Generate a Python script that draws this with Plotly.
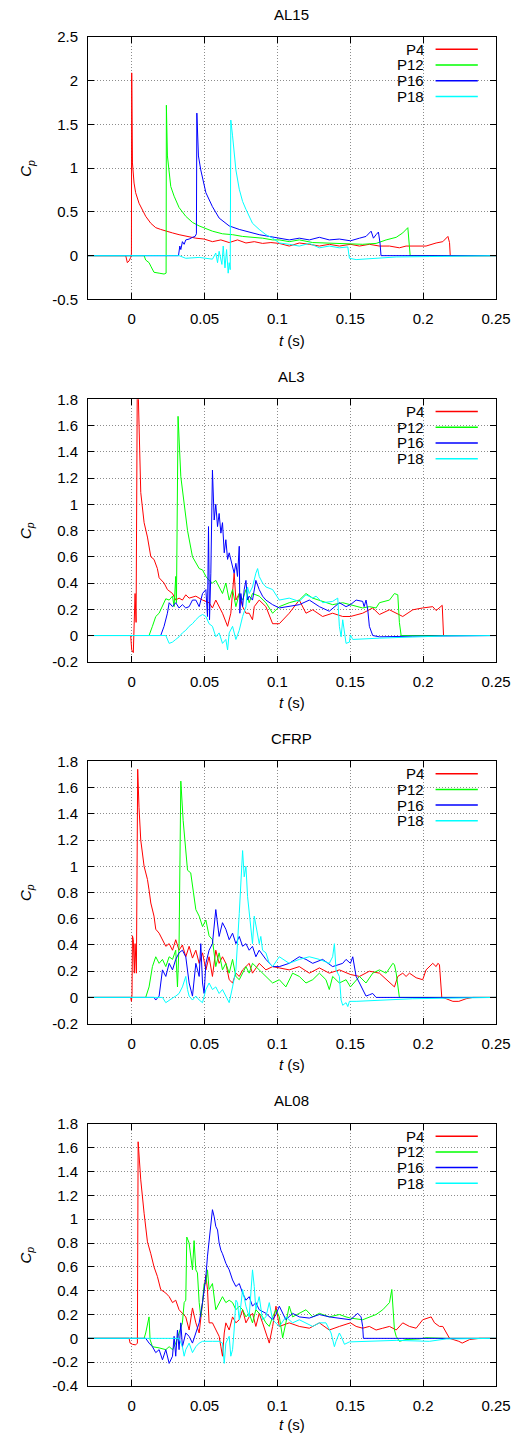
import plotly.graph_objects as go

# ---------------- data (t in s, Cp) ----------------
SERIES = ["P4", "P12", "P16", "P18"]
COLORS = ["#ff0000", "#00ff00", "#0000ff", "#00ffff"]
PANELS = ["AL15", "AL3", "CFRP", "AL08"]

X_TICKS = [0, 0.05, 0.1, 0.15, 0.2, 0.25]
X_TICK_TEXT = ["0", "0.05", "0.1", "0.15", "0.2", "0.25"]

Y_RANGES = [[-0.5, 2.5], [-0.2, 1.8], [-0.2, 1.8], [-0.4, 1.8]]
Y_TICKS = [
    [-0.5, 0, 0.5, 1, 1.5, 2, 2.5],
    [-0.2, 0, 0.2, 0.4, 0.6, 0.8, 1, 1.2, 1.4, 1.6, 1.8],
    [-0.2, 0, 0.2, 0.4, 0.6, 0.8, 1, 1.2, 1.4, 1.6, 1.8],
    [-0.4, -0.2, 0, 0.2, 0.4, 0.6, 0.8, 1, 1.2, 1.4, 1.6, 1.8],
]
Y_TICK_TEXT = [
    ["-0.5", "0", "0.5", "1", "1.5", "2", "2.5"],
    ["-0.2", "0", "0.2", "0.4", "0.6", "0.8", "1", "1.2", "1.4", "1.6", "1.8"],
    ["-0.2", "0", "0.2", "0.4", "0.6", "0.8", "1", "1.2", "1.4", "1.6", "1.8"],
    ["-0.4", "-0.2", "0", "0.2", "0.4", "0.6", "0.8", "1", "1.2", "1.4", "1.6", "1.8"],
]

AL15_P4 = [(-0.03, 0), (-0.0041, 0), (-0.003, -0.08), (-0.0018, -0.06), (-0.0007, -0.02), (-0.0002, 0.02),
           (0.0, 2.09), (0.0005, 1.06), (0.0016, 0.83), (0.0027, 0.72), (0.005, 0.60), (0.0073, 0.53),
           (0.0096, 0.45), (0.0131, 0.37), (0.0165, 0.32), (0.0199, 0.30), (0.0234, 0.28), (0.028, 0.26),
           (0.0325, 0.24), (0.0383, 0.22), (0.044, 0.20), (0.0497, 0.19), (0.0554, 0.16), (0.0612, 0.18),
           (0.0669, 0.15), (0.0726, 0.18), (0.0784, 0.145), (0.0841, 0.16), (0.0898, 0.14), (0.0955, 0.15),
           (0.1013, 0.14), (0.1081, 0.11), (0.115, 0.145), (0.1219, 0.13), (0.1288, 0.11), (0.1356, 0.13),
           (0.1425, 0.11), (0.1501, 0.13), (0.1563, 0.11), (0.1631, 0.13), (0.17, 0.11), (0.1769, 0.11),
           (0.1837, 0.09), (0.1883, 0.11), (0.1952, 0.11), (0.202, 0.11), (0.2089, 0.145), (0.2135, 0.16),
           (0.217, 0.22), (0.2181, 0.15), (0.2186, 0.0), (0.25, 0)]
AL15_P12 = [(-0.03, 0), (0.0085, 0), (0.0096, -0.05), (0.0119, -0.08), (0.0131, -0.12), (0.0153, -0.19),
            (0.0188, -0.2), (0.0222, -0.21), (0.0236, -0.2), (0.0238, 1.72), (0.0245, 1.14), (0.0257, 0.91),
            (0.0268, 0.79), (0.0291, 0.68), (0.0325, 0.55), (0.0371, 0.45), (0.0417, 0.38), (0.0463, 0.34),
            (0.0509, 0.31), (0.0554, 0.28), (0.0623, 0.25), (0.0692, 0.24), (0.0761, 0.22), (0.0829, 0.21),
            (0.0898, 0.2), (0.0967, 0.18), (0.1013, 0.18), (0.1081, 0.16), (0.115, 0.18), (0.1242, 0.15),
            (0.1333, 0.145), (0.1425, 0.14), (0.1501, 0.13), (0.1585, 0.13), (0.1677, 0.14), (0.1746, 0.18),
            (0.1815, 0.21), (0.186, 0.26), (0.1895, 0.32), (0.1902, 0.18), (0.1911, 0), (0.25, 0)]
AL15_P16 = [(-0.03, 0), (0.0321, 0), (0.033, 0.11), (0.0337, 0.07), (0.0348, 0.16), (0.036, 0.13),
            (0.0371, 0.18), (0.0394, 0.19), (0.0417, 0.21), (0.0435, 0.22), (0.0444, 0.25), (0.0447, 1.63),
            (0.0458, 1.14), (0.0474, 0.98), (0.0509, 0.72), (0.0554, 0.56), (0.06, 0.43), (0.0669, 0.34),
            (0.0738, 0.30), (0.0806, 0.27), (0.0875, 0.24), (0.0944, 0.22), (0.1013, 0.2), (0.1081, 0.18),
            (0.115, 0.2), (0.1219, 0.18), (0.1288, 0.21), (0.1356, 0.18), (0.1425, 0.19), (0.1501, 0.17),
            (0.1563, 0.2), (0.1608, 0.22), (0.1643, 0.28), (0.1659, 0.2), (0.1677, 0.24), (0.1693, 0.27),
            (0.1704, 0.145), (0.1711, 0), (0.25, 0)]
AL15_P18 = [(-0.03, 0), (0.0325, 0), (0.0371, -0.03), (0.0463, -0.02), (0.0554, -0.04), (0.0577, 0.03),
            (0.0589, -0.08), (0.06, 0.05), (0.0619, -0.1), (0.0628, 0.11), (0.064, -0.14), (0.0651, 0.07),
            (0.0662, -0.2), (0.0669, -0.08), (0.0676, -0.16), (0.068, 1.55), (0.0692, 1.37), (0.0715, 0.98),
            (0.0738, 0.76), (0.0761, 0.62), (0.0784, 0.53), (0.0829, 0.37), (0.0875, 0.30), (0.0921, 0.24),
            (0.0967, 0.2), (0.1013, 0.145), (0.1081, 0.13), (0.115, 0.11), (0.1219, 0.14), (0.1288, 0.09),
            (0.1356, 0.11), (0.1425, 0.09), (0.1483, 0.1), (0.1494, -0.03), (0.154, -0.045), (0.1654, -0.03),
            (0.1815, -0.015), (0.2043, -0.01), (0.25, 0)]

AL3_P4 = [(-0.03, 0), (-0.0007, 0), (0.0, -0.11), (0.0011, -0.13), (0.0023, 0.32), (0.003, 0.1),
          (0.0039, 2.1), (0.005, 1.59), (0.0062, 1.09), (0.0085, 0.86), (0.0108, 0.75), (0.0131, 0.60),
          (0.0153, 0.58), (0.0176, 0.51), (0.0188, 0.44), (0.0222, 0.40), (0.0245, 0.35), (0.028, 0.32),
          (0.0302, 0.27), (0.0325, 0.285), (0.0348, 0.27), (0.0371, 0.31), (0.0394, 0.285), (0.044, 0.30),
          (0.0486, 0.27), (0.0531, 0.25), (0.0554, 0.21), (0.0577, 0.27), (0.0623, 0.17), (0.0658, 0.07),
          (0.068, 0.17), (0.0703, 0.475), (0.0715, 0.27), (0.0738, 0.32), (0.0761, 0.22), (0.0784, 0.17),
          (0.0806, 0.17), (0.0829, 0.12), (0.0841, 0.22), (0.0875, 0.27), (0.0921, 0.22), (0.0967, 0.09),
          (0.1013, 0.09), (0.1081, 0.17), (0.115, 0.27), (0.1196, 0.17), (0.1242, 0.196), (0.131, 0.145),
          (0.1379, 0.17), (0.1448, 0.145), (0.1501, 0.145), (0.1585, 0.17), (0.1654, 0.21), (0.17, 0.16),
          (0.1769, 0.196), (0.186, 0.145), (0.1929, 0.196), (0.1997, 0.21), (0.2066, 0.22), (0.2089, 0.19),
          (0.2112, 0.21), (0.2131, 0.23), (0.214, 0), (0.25, 0)]
AL3_P12 = [(-0.03, 0), (0.0119, 0), (0.0142, 0.07), (0.0165, 0.145), (0.0188, 0.17), (0.0211, 0.22),
           (0.0234, 0.28), (0.0257, 0.27), (0.028, 0.30), (0.0291, 0.22), (0.0302, 0.45), (0.0307, 0.25),
           (0.0318, 1.67), (0.0337, 1.21), (0.036, 0.98), (0.0383, 0.80), (0.0417, 0.60), (0.044, 0.55),
           (0.0463, 0.51), (0.0486, 0.50), (0.0509, 0.45), (0.0531, 0.42), (0.0554, 0.40), (0.0577, 0.42),
           (0.06, 0.37), (0.0623, 0.32), (0.0646, 0.40), (0.0669, 0.27), (0.0692, 0.35), (0.0715, 0.22),
           (0.0738, 0.32), (0.0761, 0.27), (0.0784, 0.35), (0.0806, 0.25), (0.0829, 0.32), (0.0875, 0.30),
           (0.0921, 0.25), (0.0967, 0.17), (0.1013, 0.22), (0.1081, 0.25), (0.115, 0.27), (0.1196, 0.32),
           (0.1242, 0.285), (0.131, 0.26), (0.1379, 0.235), (0.1448, 0.25), (0.1501, 0.235), (0.1585, 0.21),
           (0.1631, 0.22), (0.1677, 0.21), (0.17, 0.25), (0.1769, 0.27), (0.1803, 0.32), (0.1826, 0.31),
           (0.1837, 0.1), (0.1849, 0), (0.25, 0)]
AL3_P16 = [(-0.03, 0), (0.0199, 0), (0.0222, 0.07), (0.0245, 0.17), (0.0257, 0.25), (0.028, 0.22),
           (0.0302, 0.25), (0.0325, 0.21), (0.0348, 0.235), (0.0371, 0.21), (0.0394, 0.22), (0.0417, 0.27),
           (0.044, 0.27), (0.0463, 0.22), (0.0486, 0.32), (0.0509, 0.35), (0.052, 0.145), (0.0527, 0.83),
           (0.0534, 0.12), (0.0543, 0.475), (0.0554, 1.26), (0.0566, 0.88), (0.0577, 1.0), (0.0589, 0.83),
           (0.06, 0.93), (0.0612, 0.78), (0.0623, 0.86), (0.0635, 0.63), (0.0646, 0.73), (0.0658, 0.58),
           (0.0669, 0.63), (0.0692, 0.53), (0.0703, 0.475), (0.0715, 0.55), (0.0726, 0.45), (0.0738, 0.68),
           (0.0742, 0.17), (0.0749, 0.32), (0.0761, 0.22), (0.0772, 0.35), (0.0784, 0.42), (0.0795, 0.27),
           (0.0806, 0.30), (0.0829, 0.27), (0.0852, 0.42), (0.0875, 0.35), (0.0898, 0.30), (0.0921, 0.27),
           (0.0967, 0.235), (0.1013, 0.21), (0.1081, 0.22), (0.115, 0.235), (0.1219, 0.27), (0.1288, 0.22),
           (0.1356, 0.185), (0.1425, 0.25), (0.1471, 0.22), (0.1501, 0.235), (0.154, 0.27), (0.1585, 0.26),
           (0.1595, 0.22), (0.1608, 0.27), (0.162, 0.196), (0.1631, 0.07), (0.1654, 0), (0.17, -0.01),
           (0.1929, -0.005), (0.25, 0)]
AL3_P18 = [(-0.03, 0), (0.0234, 0), (0.0257, -0.06), (0.028, -0.05), (0.0302, -0.03), (0.0325, -0.01),
           (0.0348, 0.02), (0.0371, 0.04), (0.0394, 0.07), (0.0417, 0.09), (0.044, 0.12), (0.0463, 0.145),
           (0.0486, 0.16), (0.0509, 0.145), (0.0531, 0.09), (0.0554, 0.07), (0.0577, -0.01), (0.06, 0.02),
           (0.0623, -0.06), (0.0646, -0.03), (0.0658, -0.11), (0.0669, 0.02), (0.0692, 0.07), (0.0715, -0.03),
           (0.0738, 0.04), (0.0761, 0.145), (0.0784, 0.22), (0.0795, 0.37), (0.0806, 0.32), (0.0829, 0.37),
           (0.0852, 0.475), (0.0864, 0.51), (0.0875, 0.45), (0.0898, 0.40), (0.0921, 0.37), (0.0967, 0.35),
           (0.1013, 0.27), (0.1081, 0.285), (0.115, 0.26), (0.1196, 0.31), (0.1242, 0.285), (0.1265, 0.30),
           (0.131, 0.25), (0.1379, 0.26), (0.1414, 0.285), (0.1425, 0.07), (0.1437, -0.01), (0.1448, 0.12),
           (0.1471, -0.06), (0.1494, -0.05), (0.1501, 0.005), (0.1517, -0.03), (0.17, -0.02), (0.1929, -0.01),
           (0.2158, -0.003), (0.25, 0)]

CFRP_P4 = [(-0.03, 0), (-0.0007, 0), (-0.0002, -0.03), (0.0002, 0.02), (0.0005, 0.47), (0.0011, 0.44),
           (0.0018, 0.185), (0.0023, 0.41), (0.0032, 0.185), (0.0041, 1.74), (0.005, 1.45), (0.0062, 1.2),
           (0.0085, 1.0), (0.0108, 0.90), (0.0119, 0.82), (0.0131, 0.72), (0.0153, 0.62), (0.0165, 0.52),
           (0.0188, 0.49), (0.0211, 0.44), (0.0234, 0.39), (0.0257, 0.41), (0.028, 0.36), (0.0302, 0.44),
           (0.0325, 0.36), (0.0348, 0.40), (0.0371, 0.31), (0.0394, 0.39), (0.0417, 0.30), (0.044, 0.36),
           (0.0463, 0.26), (0.0486, 0.34), (0.0509, 0.21), (0.0531, 0.31), (0.0554, 0.16), (0.0577, 0.36),
           (0.06, 0.26), (0.0623, 0.31), (0.0646, 0.26), (0.0669, 0.135), (0.0692, 0.11), (0.0715, 0.185),
           (0.0738, 0.16), (0.0761, 0.21), (0.0784, 0.235), (0.0806, 0.26), (0.0829, 0.185), (0.0875, 0.26),
           (0.0921, 0.21), (0.0967, 0.235), (0.1013, 0.225), (0.1081, 0.21), (0.115, 0.235), (0.1219, 0.185),
           (0.1288, 0.225), (0.1356, 0.185), (0.1425, 0.21), (0.1501, 0.175), (0.1563, 0.16), (0.1631, 0.2),
           (0.17, 0.185), (0.1769, 0.11), (0.1803, 0.08), (0.1826, 0.16), (0.186, 0.185), (0.1883, 0.16),
           (0.1906, 0.185), (0.1952, 0.15), (0.1997, 0.135), (0.202, 0.21), (0.2043, 0.235), (0.2066, 0.26),
           (0.2089, 0.235), (0.2101, 0.26), (0.2112, 0.25), (0.2128, 0), (0.2158, -0.01), (0.2204, -0.03),
           (0.2245, -0.03), (0.2295, -0.01), (0.2341, 0), (0.25, 0)]
CFRP_P12 = [(-0.03, 0), (0.0096, 0), (0.0119, 0.08), (0.0142, 0.235), (0.0165, 0.31), (0.0188, 0.26),
            (0.0211, 0.29), (0.0234, 0.235), (0.0257, 0.31), (0.028, 0.29), (0.0302, 0.36), (0.0314, 0.08),
            (0.0325, 0.41), (0.0337, 1.65), (0.0353, 1.35), (0.0371, 1.13), (0.0383, 0.97), (0.0405, 0.95),
            (0.0417, 0.85), (0.044, 0.67), (0.0463, 0.62), (0.0486, 0.54), (0.0509, 0.59), (0.0531, 0.47),
            (0.0554, 0.44), (0.0577, 0.235), (0.06, 0.34), (0.0623, 0.21), (0.0646, 0.26), (0.0669, 0.185),
            (0.0692, 0.29), (0.0715, 0.16), (0.0738, 0.135), (0.0761, 0.185), (0.0784, 0.235), (0.0806, 0.185),
            (0.0829, 0.26), (0.0875, 0.21), (0.0921, 0.16), (0.0967, 0.11), (0.1013, 0.135), (0.1058, 0.08),
            (0.1104, 0.185), (0.115, 0.16), (0.1196, 0.11), (0.1242, 0.135), (0.1288, 0.185), (0.1333, 0.135),
            (0.1356, 0.06), (0.1379, 0.16), (0.1425, 0.11), (0.1471, 0.135), (0.1501, 0.08), (0.1563, 0.16),
            (0.1608, 0.11), (0.1654, 0.185), (0.17, 0.21), (0.1746, 0.185), (0.1792, 0.26), (0.1803, 0.25),
            (0.1815, 0.185), (0.1837, 0), (0.25, 0)]
CFRP_P16 = [(-0.03, 0), (0.0153, 0), (0.0165, -0.02), (0.0188, 0.01), (0.0211, 0.21), (0.0234, 0.16),
            (0.0257, 0.26), (0.028, 0.21), (0.0302, 0.29), (0.0325, 0.34), (0.0348, 0.36), (0.0371, 0.31),
            (0.0394, 0.11), (0.0417, 0.01), (0.044, 0.26), (0.0463, 0.16), (0.0474, 0.41), (0.0486, 0.11),
            (0.0497, 0.03), (0.0509, 0.26), (0.0531, 0.36), (0.0554, 0.41), (0.0577, 0.67), (0.06, 0.465),
            (0.0623, 0.57), (0.0646, 0.52), (0.0669, 0.44), (0.0692, 0.49), (0.0715, 0.41), (0.0738, 0.465),
            (0.0761, 0.39), (0.0784, 0.41), (0.0806, 0.36), (0.0829, 0.39), (0.0852, 0.31), (0.0875, 0.36),
            (0.0921, 0.29), (0.0967, 0.235), (0.1013, 0.235), (0.1081, 0.26), (0.115, 0.31), (0.1196, 0.29),
            (0.1242, 0.26), (0.131, 0.29), (0.1379, 0.235), (0.1448, 0.26), (0.1471, 0.29), (0.1501, 0.26),
            (0.1517, 0.31), (0.154, 0.16), (0.1563, 0.11), (0.1585, 0.06), (0.1608, 0.01), (0.1631, 0.02),
            (0.1654, 0.03), (0.1677, 0), (0.25, 0)]
CFRP_P18 = [(-0.03, 0), (0.0211, 0), (0.0234, -0.04), (0.0257, -0.02), (0.028, -0.005), (0.0302, 0.01),
            (0.0325, 0.03), (0.0348, 0.08), (0.0371, 0.16), (0.0383, 0.06), (0.0394, 0.01), (0.0417, -0.02),
            (0.044, 0.01), (0.0463, -0.02), (0.0486, -0.04), (0.0509, 0.06), (0.0531, 0.11), (0.0554, 0.06),
            (0.0577, 0.08), (0.06, 0.03), (0.0623, 0.06), (0.0646, 0.01), (0.0669, -0.04), (0.0692, 0.08),
            (0.0715, 0.21), (0.0738, 0.64), (0.0749, 0.87), (0.0761, 1.12), (0.0772, 0.92), (0.0784, 1.0),
            (0.0795, 0.77), (0.0806, 0.64), (0.0829, 0.41), (0.0841, 0.62), (0.0852, 0.54), (0.0875, 0.41),
            (0.0886, 0.465), (0.0898, 0.36), (0.0921, 0.34), (0.0944, 0.26), (0.0967, 0.235), (0.1013, 0.31),
            (0.1081, 0.26), (0.115, 0.29), (0.1219, 0.31), (0.1288, 0.29), (0.1356, 0.26), (0.1379, 0.31),
            (0.1391, 0.41), (0.1402, 0.21), (0.1425, 0.16), (0.1437, -0.02), (0.1448, -0.06), (0.1471, -0.04),
            (0.1483, -0.07), (0.1494, -0.03), (0.154, -0.03), (0.17, -0.02), (0.1929, -0.01), (0.25, 0)]

AL08_P4 = [(-0.03, 0), (-0.0018, 0), (-0.0011, -0.04), (0.0005, -0.05), (0.0027, -0.055), (0.0039, -0.04),
           (0.0044, 1.65), (0.0062, 1.33), (0.0085, 1.05), (0.0108, 0.81), (0.0131, 0.71), (0.0153, 0.60),
           (0.0176, 0.52), (0.0199, 0.41), (0.0234, 0.38), (0.0257, 0.35), (0.028, 0.30), (0.0302, 0.32),
           (0.0325, 0.24), (0.0348, 0.21), (0.0371, 0.18), (0.0394, 0.07), (0.0417, 0.255), (0.044, 0.13),
           (0.0463, 0.045), (0.0486, 0.30), (0.0509, 0.53), (0.052, 0.41), (0.0531, 0.13), (0.0554, 0.13),
           (0.0577, 0.07), (0.06, 0.017), (0.0612, -0.07), (0.0623, -0.15), (0.0635, 0.045), (0.0646, 0.13),
           (0.0669, 0.07), (0.0692, 0.18), (0.0715, 0.13), (0.0738, 0.156), (0.0761, 0.24), (0.0784, 0.13),
           (0.0806, 0.18), (0.0829, 0.21), (0.0852, 0.10), (0.0875, 0.21), (0.0898, 0.13), (0.0921, 0.045),
           (0.0944, -0.04), (0.0967, 0.10), (0.099, 0.27), (0.1013, 0.10), (0.1081, 0.13), (0.115, 0.10),
           (0.1219, 0.085), (0.1288, 0.13), (0.1356, 0.07), (0.1425, 0.10), (0.1471, 0.115), (0.1501, 0.13),
           (0.154, 0.10), (0.1585, 0.085), (0.1631, 0.10), (0.1677, 0.07), (0.1723, 0.085), (0.1769, 0.10),
           (0.1815, 0.07), (0.186, 0.13), (0.1906, 0.10), (0.1952, 0.085), (0.1997, 0.156), (0.2055, 0.18),
           (0.2078, 0.13), (0.2112, 0.10), (0.2135, 0.10), (0.2158, 0.045), (0.2181, 0), (0.2245, -0.025),
           (0.2268, -0.04), (0.2319, -0.01), (0.2387, 0), (0.25, 0)]
AL08_P12 = [(-0.03, 0), (0.0085, 0), (0.0096, 0.045), (0.0108, 0.13), (0.0119, 0.18), (0.0126, -0.01),
            (0.0142, -0.07), (0.0188, -0.08), (0.0234, -0.095), (0.0257, -0.07), (0.028, -0.095), (0.0302, -0.04),
            (0.0325, 0.045), (0.0348, 0.13), (0.036, 0.30), (0.0371, 0.32), (0.0378, 0.85), (0.0394, 0.80),
            (0.0417, 0.575), (0.0428, 0.82), (0.044, 0.575), (0.0451, 0.55), (0.0463, 0.30), (0.0474, 0.18),
            (0.0486, 0.30), (0.0497, 0.46), (0.0509, 0.46), (0.052, 0.575), (0.0531, 0.41), (0.0554, 0.46),
            (0.0577, 0.24), (0.06, 0.30), (0.0623, 0.35), (0.0646, 0.30), (0.0669, 0.32), (0.0692, 0.30),
            (0.0715, 0.24), (0.0738, 0.27), (0.0761, 0.24), (0.0784, 0.18), (0.0806, 0.21), (0.0829, 0.13),
            (0.0852, 0.24), (0.0875, 0.21), (0.0898, 0.18), (0.0921, 0.13), (0.0944, 0.10), (0.0967, 0.18),
            (0.099, 0.24), (0.1013, 0.18), (0.1036, 0.005), (0.1058, 0.13), (0.1081, 0.27), (0.1104, 0.18),
            (0.115, 0.21), (0.1196, 0.24), (0.1242, 0.18), (0.1288, 0.21), (0.1356, 0.18), (0.1425, 0.20),
            (0.1471, 0.18), (0.1501, 0.17), (0.1585, 0.156), (0.1631, 0.18), (0.1677, 0.20), (0.1723, 0.24),
            (0.1769, 0.30), (0.1785, 0.41), (0.1803, 0.07), (0.1815, 0.017), (0.1837, -0.025), (0.1883, -0.01),
            (0.1975, -0.005), (0.202, 0.005), (0.2158, 0), (0.25, 0)]
AL08_P16 = [(-0.03, 0), (0.0096, 0), (0.0119, -0.04), (0.0142, -0.07), (0.0165, -0.12), (0.0188, -0.095),
            (0.0211, -0.18), (0.0234, -0.095), (0.0257, -0.21), (0.028, -0.15), (0.0291, 0.017), (0.0302, -0.15),
            (0.0314, 0.07), (0.0325, -0.095), (0.0337, 0.13), (0.0348, -0.07), (0.0371, 0.045), (0.0394, 0.017),
            (0.0417, -0.04), (0.044, 0.045), (0.0463, 0.13), (0.0486, 0.30), (0.0509, 0.52), (0.052, 0.69),
            (0.0531, 0.83), (0.0543, 0.94), (0.0554, 1.08), (0.0566, 1.02), (0.0577, 0.94), (0.0589, 0.91),
            (0.06, 0.80), (0.0612, 0.74), (0.0623, 0.71), (0.0646, 0.63), (0.0669, 0.575), (0.0692, 0.49),
            (0.0715, 0.435), (0.0738, 0.46), (0.0761, 0.38), (0.0784, 0.32), (0.0806, 0.35), (0.0829, 0.27),
            (0.0852, 0.30), (0.0875, 0.24), (0.0921, 0.21), (0.0967, 0.156), (0.099, 0.20), (0.1013, 0.27),
            (0.1058, 0.156), (0.1104, 0.21), (0.115, 0.18), (0.1219, 0.17), (0.1288, 0.20), (0.1356, 0.18),
            (0.1425, 0.17), (0.1501, 0.156), (0.1551, 0.21), (0.1574, 0.18), (0.1585, 0.1), (0.159, 0), (0.25, 0)]
AL08_P18 = [(-0.03, 0), (0.0325, 0), (0.0348, -0.07), (0.036, -0.15), (0.0371, -0.095), (0.0394, -0.04),
            (0.0417, -0.12), (0.044, -0.07), (0.0463, -0.04), (0.0486, -0.025), (0.0554, -0.025), (0.06, -0.025),
            (0.0623, -0.04), (0.0635, -0.21), (0.0646, -0.04), (0.0669, 0.017), (0.068, -0.15), (0.0692, -0.095),
            (0.0703, 0.07), (0.0715, 0.32), (0.0726, 0.30), (0.0738, 0.156), (0.0761, 0.41), (0.0784, 0.27),
            (0.0806, 0.18), (0.0818, 0.35), (0.0829, 0.575), (0.0841, 0.435), (0.0852, 0.24), (0.0875, 0.35),
            (0.0898, 0.156), (0.0921, 0.18), (0.0944, 0.30), (0.0967, 0.156), (0.099, 0.13), (0.1013, 0.10),
            (0.1058, 0.18), (0.1104, 0.13), (0.115, 0.156), (0.1196, 0.13), (0.1242, 0.10), (0.1288, 0.13),
            (0.1333, 0.13), (0.1368, 0.045), (0.1391, -0.07), (0.1402, -0.025), (0.1425, 0.045), (0.1437, 0.017),
            (0.146, -0.05), (0.1494, -0.03), (0.1585, -0.025), (0.1815, -0.017), (0.2043, -0.025), (0.2158, -0.005),
            (0.25, 0)]

DATA = [
    [AL15_P4, AL15_P12, AL15_P16, AL15_P18],
    [AL3_P4, AL3_P12, AL3_P16, AL3_P18],
    [CFRP_P4, CFRP_P12, CFRP_P16, CFRP_P18],
    [AL08_P4, AL08_P12, AL08_P16, AL08_P18],
]

# ---------------- layout geometry (pixels) ----------------
W, H = 519, 1435
LEFT, RIGHT = 88, 496.5
MT, MB = 37, 48.5
PANEL_PX = [(37, 299.5), (399.4, 662), (761.7, 1024), (1124.3, 1386.5)]
XTITLE_OFFSET = [41, 41, 41, 38.5]
PH = H - MT - MB
FONT = "Liberation Sans, Arial, Helvetica, sans-serif"


def fy(py):
    return (H - MB - py) / PH


def fx(px):
    return (px - LEFT) / (RIGHT - LEFT)


fig = go.Figure()
layout = dict(
    width=W, height=H,
    margin=dict(l=LEFT, r=W - RIGHT, t=MT, b=MB, pad=0),
    paper_bgcolor="white", plot_bgcolor="white",
    showlegend=False,
    font=dict(family=FONT, size=15, color="black"),
)
annotations = []
shapes = []

for k in range(4):
    sfx = "" if k == 0 else str(k + 1)
    top, bot = PANEL_PX[k]
    for s in range(4):
        pts = DATA[k][s]
        fig.add_trace(go.Scatter(
            x=[p[0] for p in pts], y=[p[1] for p in pts],
            mode="lines", name=SERIES[s],
            line=dict(color=COLORS[s], width=1),
            xaxis="x" + sfx, yaxis="y" + sfx,
            hoverinfo="skip",
        ))
    axis_common = dict(
        ticks="inside", ticklen=6, tickwidth=1, tickcolor="black",
        showline=True, linecolor="black", linewidth=1, mirror="ticks",
        showgrid=True, gridcolor="#8c8c8c", gridwidth=1, griddash="1px,2px",
        zeroline=False, automargin=False,
        tickfont=dict(family=FONT, size=15, color="black"),
        ticklabelstandoff=6,
    )
    layout["xaxis" + sfx] = dict(
        axis_common, domain=[0, 1], range=[-0.03, 0.25], anchor="y" + sfx,
        tickmode="array", tickvals=X_TICKS, ticktext=X_TICK_TEXT,
    )
    layout["yaxis" + sfx] = dict(
        axis_common, domain=[fy(bot), fy(top)], range=Y_RANGES[k], anchor="x" + sfx,
        tickmode="array", tickvals=Y_TICKS[k], ticktext=Y_TICK_TEXT[k],
    )
    # panel title
    annotations.append(dict(text=PANELS[k], xref="paper", yref="paper",
                            x=fx(292), y=fy(top - 23), showarrow=False,
                            xanchor="center", yanchor="middle",
                            font=dict(family=FONT, size=15, color="black")))
    # x axis title
    annotations.append(dict(text="<i>t</i> (s)", xref="paper", yref="paper",
                            x=fx(292.5), y=fy(bot + XTITLE_OFFSET[k]), showarrow=False,
                            xanchor="center", yanchor="middle",
                            font=dict(family=FONT, size=15, color="black")))
    # y axis title
    annotations.append(dict(text="<i>C<sub>p</sub></i>", xref="paper", yref="paper",
                            x=fx(26.5), y=fy((top + bot) / 2), showarrow=False,
                            textangle=-90, xanchor="center", yanchor="middle",
                            font=dict(family=FONT, size=15, color="black")))
    # key (gnuplot style: label left of sample line)
    shapes.append(dict(type="rect", xref="paper", yref="paper",
                       x0=fx(397), x1=fx(487), y0=fy(top + 66), y1=fy(top + 4),
                       fillcolor="white", line=dict(width=0), layer="between"))
    for s in range(4):
        ry = top + 12.3 + s * 15.7
        annotations.append(dict(text=SERIES[s], xref="paper", yref="paper",
                                x=fx(426), y=fy(ry), showarrow=False,
                                xanchor="right", yanchor="middle",
                                font=dict(family=FONT, size=15, color="black")))
        shapes.append(dict(type="line", xref="paper", yref="paper",
                           x0=fx(436), x1=fx(478.3), y0=fy(ry), y1=fy(ry),
                           line=dict(color=COLORS[s], width=1.5), layer="above"))

layout["annotations"] = annotations
layout["shapes"] = shapes
fig.update_layout(**layout)
fig.write_html("out.html")
